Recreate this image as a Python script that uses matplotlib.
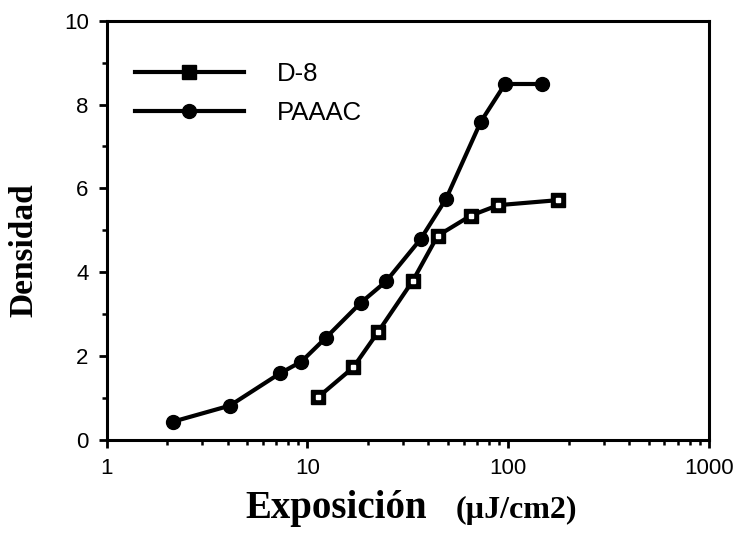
import numpy as np
import matplotlib
matplotlib.use("Agg")
import matplotlib.pyplot as plt

# datos
exp_d8 = [11.3, 16.9, 22.5, 33.5, 44.5, 65, 89, 177]
dens_d8 = [1.02, 1.73, 2.58, 3.80, 4.87, 5.35, 5.60, 5.72]

exp_paaac = [2.15, 4.11, 7.3, 9.33, 12.3, 18.4, 24.6, 36.6, 49, 73, 96.4, 147]
dens_paaac = [0.44, 0.82, 1.59, 1.87, 2.43, 3.27, 3.78, 4.79, 5.75, 7.59, 8.49, 8.49]

etiquetas = ["D-8", "PAAAC"]

fig = plt.figure(figsize=(7.45, 5.33), dpi=100)
ax = fig.add_axes([0.1432, 0.1745, 0.8085, 0.7867])

ax.plot(exp_d8, dens_d8, c="black", lw=3, marker="s", ms=9.5,
        mfc="black", mec="black", label=etiquetas[0], zorder=3)
ax.plot(exp_d8, dens_d8, ls="none", marker="s", ms=3, mfc="white",
        mec="white", zorder=4)
ax.plot(exp_paaac, dens_paaac, c="black", lw=3, marker="o", ms=10,
        mfc="black", mec="black", label=etiquetas[1], zorder=3)

ax.set_xscale("log")
ax.set_xlim(1, 1000)
ax.set_ylim(0, 10)
ax.set_xticks([1, 10, 100, 1000])
ax.set_xticklabels(["1", "10", "100", "1000"])
ax.set_yticks([0, 2, 4, 6, 8, 10])
ax.set_yticks([1, 3, 5, 7, 9], minor=True)

for s in ax.spines.values():
    s.set_linewidth(2.2)

ax.tick_params(which="major", direction="out", length=6, width=2,
               labelsize=16, pad=7)
ax.tick_params(which="minor", direction="out", length=3.5, width=1.8)
for t in ax.get_xticklabels() + ax.get_yticklabels():
    t.set_fontfamily("Liberation Sans")

# titulos de ejes (texto de figura para controlar tamanos)
fig.text(0.329, 0.028, "Exposición", fontfamily="Liberation Serif",
         fontweight="bold", fontsize=28, ha="left", va="baseline")
fig.text(0.611, 0.028, "(µJ/cm2)", fontfamily="Liberation Serif",
         fontweight="bold", fontsize=23, ha="left", va="baseline")
fig.text(0.032, 0.531, "Densidad", fontfamily="Liberation Serif",
         fontweight="bold", fontsize=24, rotation=90,
         ha="center", va="center")

leg = ax.legend(loc="upper left", bbox_to_anchor=(0.047, 0.901),
                frameon=False, handlelength=4.24, handletextpad=1.28,
                labelspacing=0.59, borderaxespad=0, borderpad=0,
                prop={"family": "Liberation Sans", "size": 18.5})

fig.savefig("out.png", dpi=100)
